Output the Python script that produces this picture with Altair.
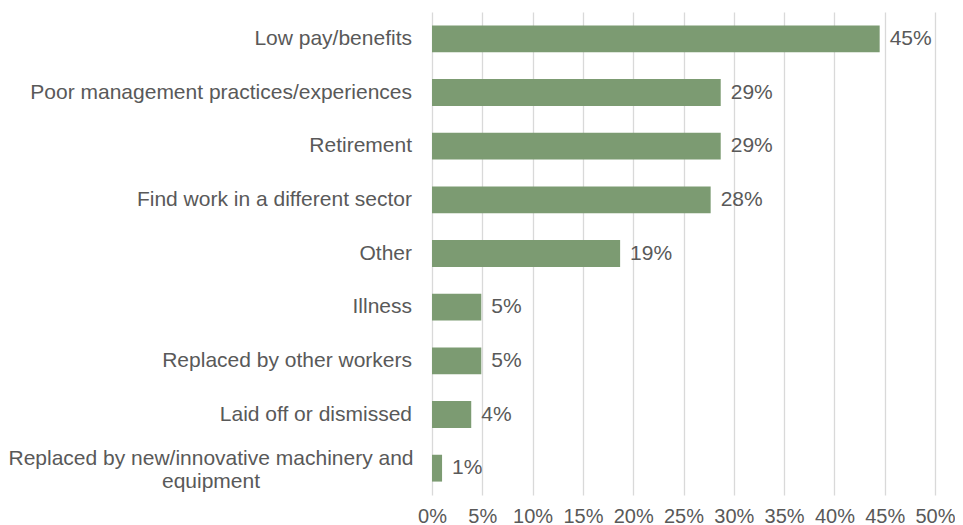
import altair as alt
import pandas as pd

categories = [
    "Low pay/benefits",
    "Poor management practices/experiences",
    "Retirement",
    "Find work in a different sector",
    "Other",
    "Illness",
    "Replaced by other workers",
    "Laid off or dismissed",
    "Replaced by new/innovative machinery and\nequipment",
]
values = [44.5, 28.7, 28.7, 27.7, 18.7, 4.9, 4.9, 3.9, 1.0]
value_labels = ["45%", "29%", "29%", "28%", "19%", "5%", "5%", "4%", "1%"]
x_ticks = [0, 5, 10, 15, 20, 25, 30, 35, 40, 45, 50]

df = pd.DataFrame({"category": categories, "value": values, "vlabel": value_labels})
df["multi"] = df["category"].str.contains("\n")

FONT = "Liberation Sans"
GREY = "#595959"
FS = 21

y_enc = alt.Y("category:N", sort=categories, axis=None,
              scale=alt.Scale(paddingInner=0.5, paddingOuter=0.25))

base = alt.Chart(df)

bars = base.mark_bar(color="#7C9B72").encode(
    x=alt.X("value:Q",
            scale=alt.Scale(domain=[0, 50], nice=False),
            axis=alt.Axis(values=x_ticks, labelExpr="datum.value + '%'",
                          title=None, grid=True, gridColor="#D9D9D9", gridWidth=1.3,
                          domain=False, ticks=False, labelFont=FONT, labelFontSize=20,
                          labelColor=GREY, labelPadding=11, labelFlush=False,
                          labelOverlap=False)),
    y=y_enc,
)

vals = base.mark_text(align="left", baseline="middle", dx=10, font=FONT,
                      fontSize=FS, color=GREY).encode(
    x="value:Q", y=y_enc, text="vlabel:N")

cat_single = base.transform_filter("!datum.multi").mark_text(
    align="right", baseline="middle", font=FONT, fontSize=FS, color=GREY).encode(
    x=alt.value(-20), y=y_enc, text="category:N")

cat_multi = base.transform_filter("datum.multi").mark_text(
    align="center", baseline="middle", font=FONT, fontSize=FS, color=GREY,
    lineBreak="\n", lineHeight=23, dy=-9).encode(
    x=alt.value(-221), y=y_enc, text="category:N")

chart = alt.layer(bars, vals, cat_single, cat_multi).properties(
    width=503, height=483,
    autosize=alt.AutoSizeParams(type="none"),
    padding={"left": 424, "top": 4, "right": 20, "bottom": 30},
).configure_view(stroke=None)

chart.save("out.html", embed_options={"renderer": "svg", "actions": False})
